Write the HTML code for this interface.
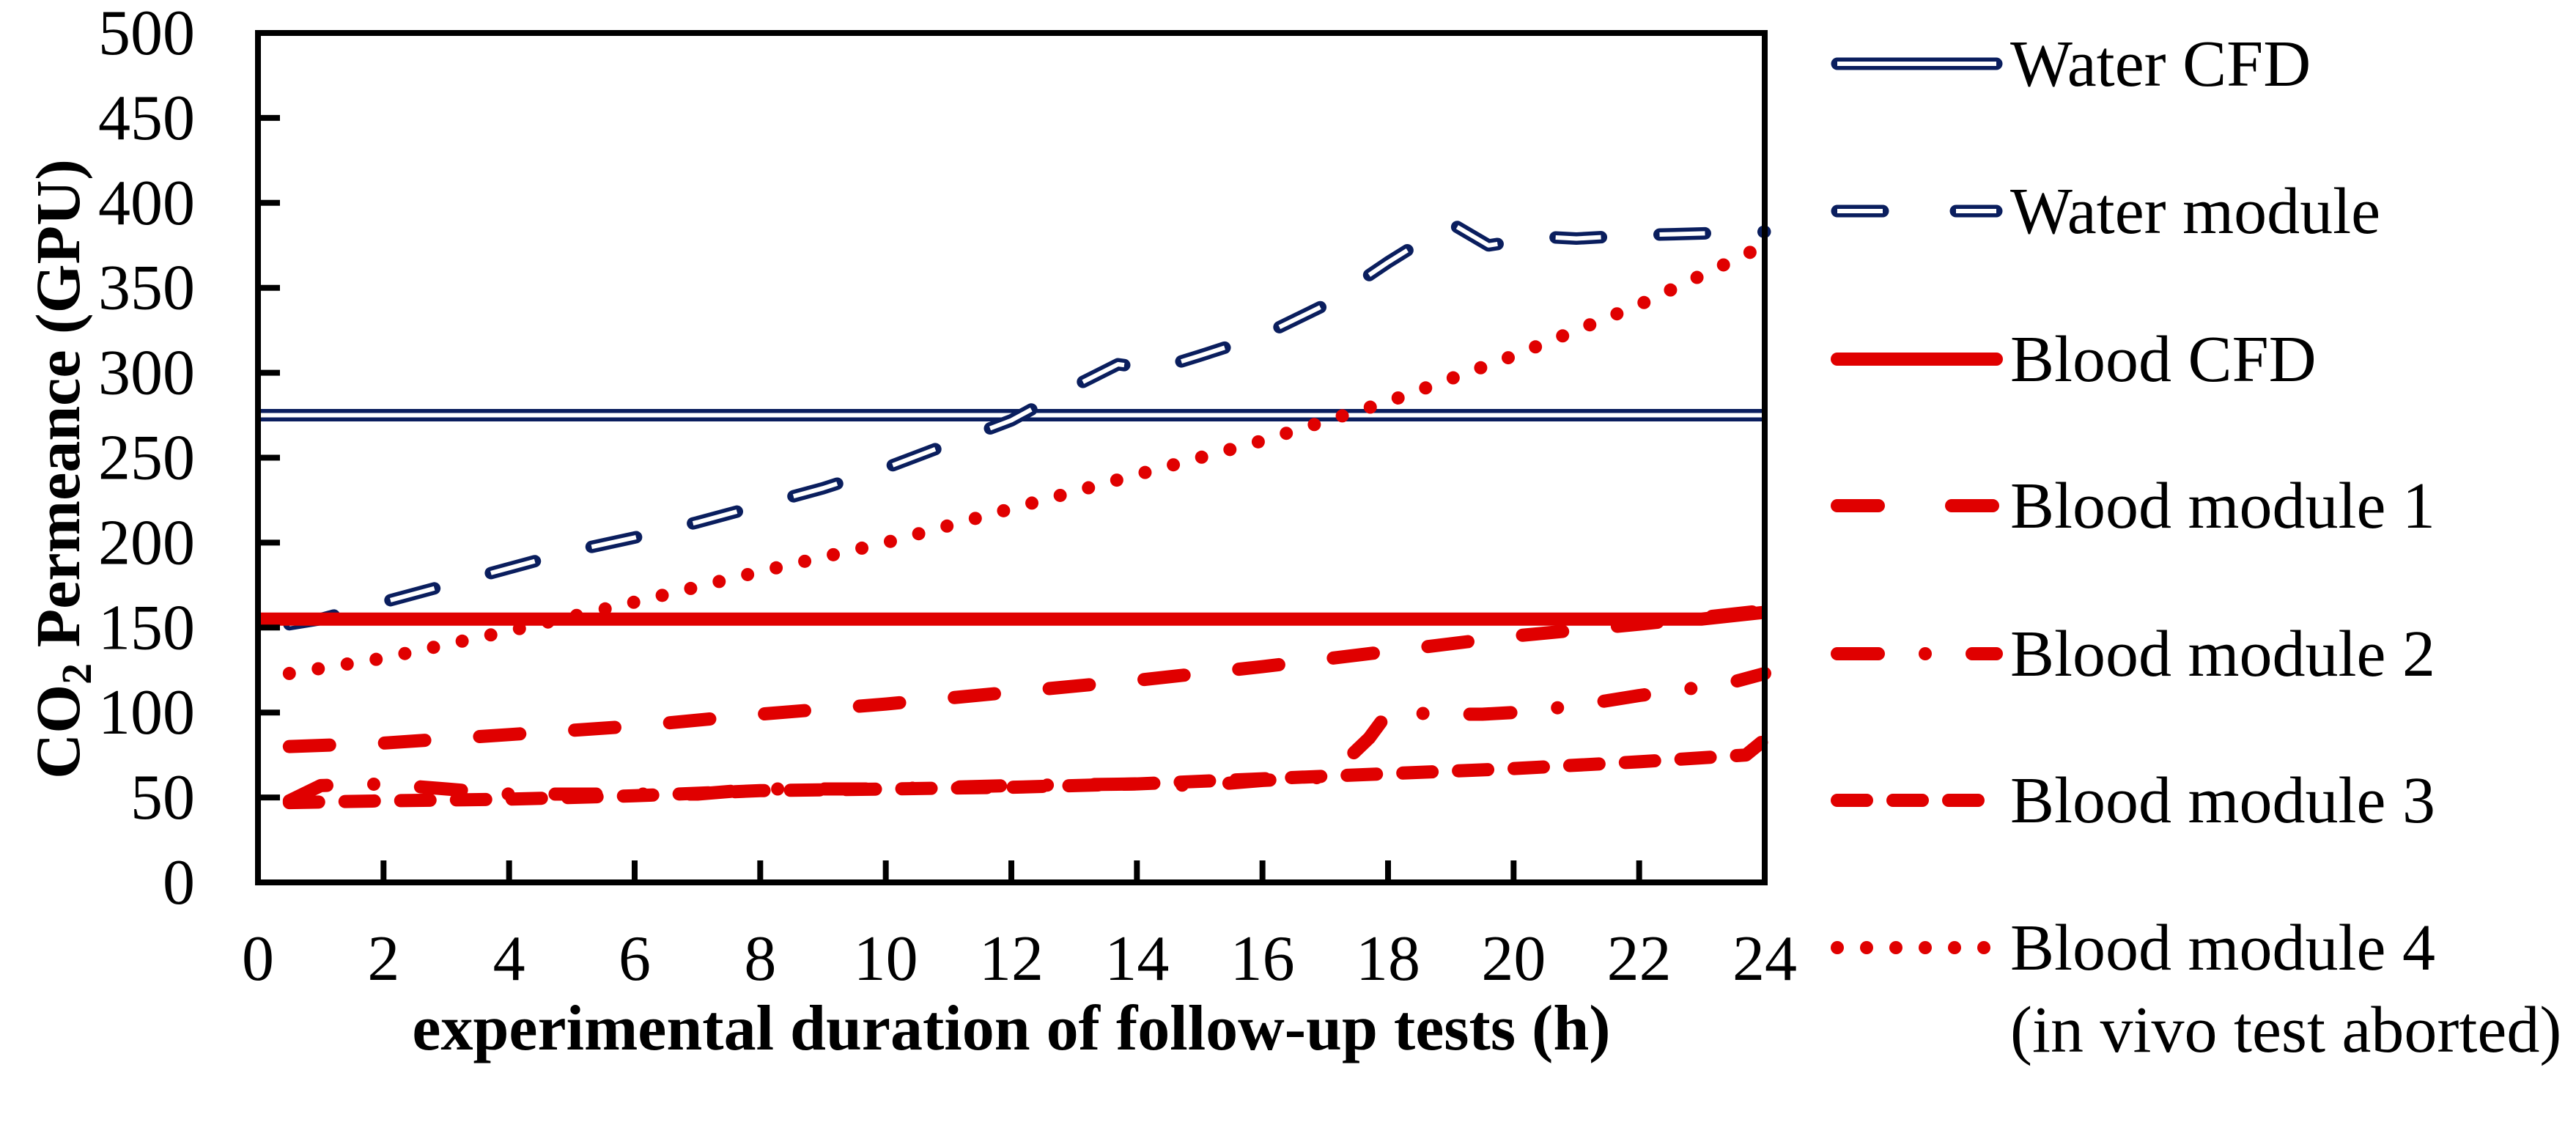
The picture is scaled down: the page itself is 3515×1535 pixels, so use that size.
<!DOCTYPE html>
<html><head><meta charset="utf-8"><style>
html,body{margin:0;padding:0;background:#fff;}
svg{display:block;}
text{font-family:"Liberation Serif",serif;fill:#000;}
</style></head><body>
<svg id="chart" width="3515" height="1535" viewBox="0 0 3515 1535" xmlns="http://www.w3.org/2000/svg">
<g id="plot"></g>
<g id="axes"></g>
<g id="legend"></g>
<text x="1380" y="1432" font-size="88" font-weight="bold" text-anchor="middle">experimental duration of follow-up tests (h)</text>
<text transform="translate(108,640) rotate(-90)" font-size="86" font-weight="bold" text-anchor="middle">CO<tspan font-size="58" dy="16">2</tspan><tspan dy="-16"> Permeance (GPU)</tspan></text>
</svg>
<script>
const xTicks = [0,2,4,6,8,10,12,14,16,18,20,22,24];
const yTicks = [0,50,100,150,200,250,300,350,400,450,500];
const waterCfdX = [0, 24];
const waterCfdY = [275, 275];
const waterModX = [0.5,1,2,3,4,5,6,7,8,9,10,11,12,13,13.7,14.3,15,16,17,18,19,19.6,20.5,21,22,23,24];
const waterModY = [152,155,165,175,185,195,203,212,222,232,244,258,272,292,305,302,310,322,340,365,388,375,380,379,381,382,383];
const bloodCfdX = [0, 23, 24];
const bloodCfdY = [155, 155, 159];
const bm1X = [0.5,2,4,6,8,10,12,14,16,18,20,22,24];
const bm1Y = [80,82,87,92,99,105,112,119,127,136,145,152,160];
const bm2X = [0.5,1,2,3,4,5,6,7,8,10,12,14,15,16,17.05,17.7,18,19,19.5,20,21,22,23,23.5,24];
const bm2Y = [48,57,58,55,52,52,52,52,55,55,57,58,57,60,62,85,100,99,99,100,104,110,115,118,123];
const bm3X = [0.5,2,4,6,8,10,12,14,16,18,20,22,23.7,24];
const bm3Y = [47,48,49,51,54,55,56,58,61,64,67,71,75,84];
const bm4X = [0.5,2,4,6,8,10,12,14,16,18,20,22,24];
const bm4Y = [123,132,148,165,183,200,220,240,260,283,310,340,375];

const X0=352, X1=2408, Y0=1204, Y1=45;
const sx = v => X0 + (v-0)/(24-0)*(X1-X0);
const sy = v => Y0 - (v-0)/(500-0)*(Y0-Y1);
const NS='http://www.w3.org/2000/svg';
const NAVY='#0a1e5e', RED='#e00000';
function mk(tag, attrs, parent){const e=document.createElementNS(NS,tag);for(const k in attrs)e.setAttribute(k,attrs[k]);parent.appendChild(e);return e;}
const plot=document.getElementById('plot'), axes=document.getElementById('axes'), legend=document.getElementById('legend');
function pts(xs,ys){return xs.map((x,i)=>sx(x).toFixed(1)+','+sy(ys[i]).toFixed(1)).join(' ');}

function series(name, xs, ys, style){
  const g=mk('g',{},plot);
  
  
  const p=pts(xs,ys);
  if(style.outline){
    mk('polyline',{points:p,fill:'none',stroke:NAVY,'stroke-width':17,'stroke-dasharray':style.dash||'none','stroke-linecap':style.dash?'round':'butt','stroke-linejoin':'round'},g);
    mk('polyline',{points:p,fill:'none',stroke:'#fff','stroke-width':6,'stroke-dasharray':style.dash||'none','stroke-linecap':'butt','stroke-linejoin':'round'},g);
  } else {
    mk('polyline',{points:p,fill:'none',stroke:RED,'stroke-width':style.w||18,'stroke-dasharray':style.dash||'none','stroke-linecap':style.dash?'round':'butt','stroke-linejoin':'round'},g);
  }
}
const styles={
  wcfd:{outline:true},
  wmod:{outline:true,dash:'62 80'},
  bcfd:{w:18},
  bm1:{dash:'55 75'},
  bm2:{dash:'56 64 0 64'},
  bm3:{dash:'40 36'},
  bm4:{dash:'0 40'}
};
series('water-cfd-line',waterCfdX,waterCfdY,styles.wcfd);
series('water-module-line',waterModX,waterModY,styles.wmod);
series('blood-module-4-line',bm4X,bm4Y,styles.bm4);
series('blood-cfd-line',bloodCfdX,bloodCfdY,styles.bcfd);
series('blood-module-1-line',bm1X,bm1Y,styles.bm1);
series('blood-module-2-line',bm2X,bm2Y,styles.bm2);
series('blood-module-3-line',bm3X,bm3Y,styles.bm3);

mk('rect',{x:X0,y:Y1,width:X1-X0,height:Y0-Y1,fill:'none',stroke:'#000','stroke-width':8},axes);
yTicks.forEach(v=>{
  const y=sy(v);
  if(v>0&&v<500) mk('line',{x1:X0,x2:X0+30,y1:y,y2:y,stroke:'#000','stroke-width':8},axes);
  const t=mk('text',{x:266,y:y+29,'font-size':88,'text-anchor':'end'},axes);
  
  
  t.textContent=v;
});
xTicks.forEach(v=>{
  const x=sx(v);
  if(v>0&&v<24) mk('line',{x1:x,x2:x,y1:Y0,y2:Y0-30,stroke:'#000','stroke-width':8},axes);
  const t=mk('text',{x:x,y:1337,'font-size':88,'text-anchor':'middle'},axes);
  
  
  t.textContent=v;
});

const legNames=['Water CFD','Water module','Blood CFD','Blood module 1','Blood module 2','Blood module 3','Blood module 4'];
const legKeys=['wcfd','wmod','bcfd','bm1','bm2','bm3','bm4'];
const legY=[87,288,490,690,892,1092,1293];
const legDash={wcfd:null,wmod:'62 100',bcfd:null,bm1:'56 100',bm2:'56 64 0 64',bm3:'40 36',bm4:'0 40'};
legKeys.forEach((k,i)=>{
  const g=mk('g',{},legend);
  
  
  const y=legY[i], st=styles[k], d=legDash[k];
  const x1=2507, x2=2724;
  if(st.outline){
    mk('line',{x1:x1,x2:x2,y1:y,y2:y,stroke:NAVY,'stroke-width':17,'stroke-linecap':'round','stroke-dasharray':d||'none'},g);
    mk('line',{x1:x1,x2:x2,y1:y,y2:y,stroke:'#fff','stroke-width':6,'stroke-dasharray':d||'none'},g);
  } else {
    mk('line',{x1:x1,x2:x2,y1:y,y2:y,stroke:RED,'stroke-width':18,'stroke-linecap':'round','stroke-dasharray':d||'none'},g);
  }
  const t=mk('text',{x:2743,y:y+30,'font-size':90},g);
  t.textContent=legNames[i];
});
const t2=mk('text',{x:2743,y:1435,'font-size':90},legend);


t2.textContent='(in vivo test aborted)';
</script>
</body></html>
